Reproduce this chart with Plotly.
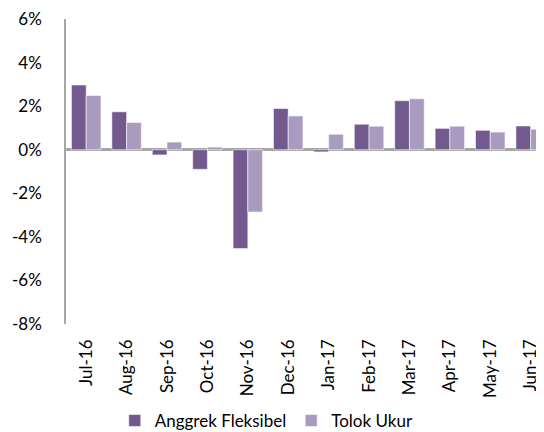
import plotly.graph_objects as go

months = ["Jul-16", "Aug-16", "Sep-16", "Oct-16", "Nov-16", "Dec-16",
          "Jan-17", "Feb-17", "Mar-17", "Apr-17", "May-17", "Jun-17"]
anggrek = [2.97, 1.74, -0.24, -0.90, -4.54, 1.89, -0.10, 1.17, 2.25, 0.98, 0.89, 1.09]
tolok = [2.49, 1.25, 0.35, 0.12, -2.86, 1.55, 0.71, 1.08, 2.34, 1.08, 0.81, 0.94]
y_ticks = [-8, -6, -4, -2, 0, 2, 4, 6]
y_labels = [f"{v}%" for v in y_ticks]

FONT = "Lato"

fig = go.Figure()
fig.add_trace(go.Bar(
    x=months, y=anggrek, name="Anggrek Fleksibel",
    marker=dict(color="#725A8F", line=dict(color="rgba(255,255,255,0.55)", width=1)),
))
fig.add_trace(go.Bar(
    x=months, y=tolok, name="Tolok Ukur",
    marker=dict(color="#A99BC0", line=dict(color="rgba(255,255,255,0.55)", width=1)),
))

fig.update_layout(
    width=536, height=432,
    margin=dict(l=58, r=0, t=11, b=116),
    paper_bgcolor="white", plot_bgcolor="white",
    barmode="group", bargap=0.27, bargroupgap=0,
    font=dict(family=FONT, size=16, color="#000000"),
    showlegend=True,
    legend=dict(
        orientation="h", x=0.42, xanchor="center", y=-0.318, yanchor="middle",
        font=dict(family=FONT, size=17, color="#000000"),
        traceorder="normal", itemwidth=30,
    ),
)
fig.update_xaxes(
    range=[-0.5, 11.33], showline=False, showgrid=False, zeroline=False,
    tickangle=-90, ticks="", ticklabelstandoff=11, ticklabeloverflow="allow",
    tickfont=dict(family=FONT, size=17, color="#000000"),
)
fig.update_yaxes(
    range=[-8, 6], tickvals=y_ticks, ticktext=y_labels,
    showline=True, linecolor="#A6A6A6", linewidth=1.5,
    showgrid=False, zeroline=True, zerolinecolor="#A6A6A6", zerolinewidth=2.5,
    ticks="", ticklabelstandoff=19, ticklabeloverflow="allow",
    tickfont=dict(family=FONT, size=17, color="#000000"),
)

fig.write_html("out.html")
